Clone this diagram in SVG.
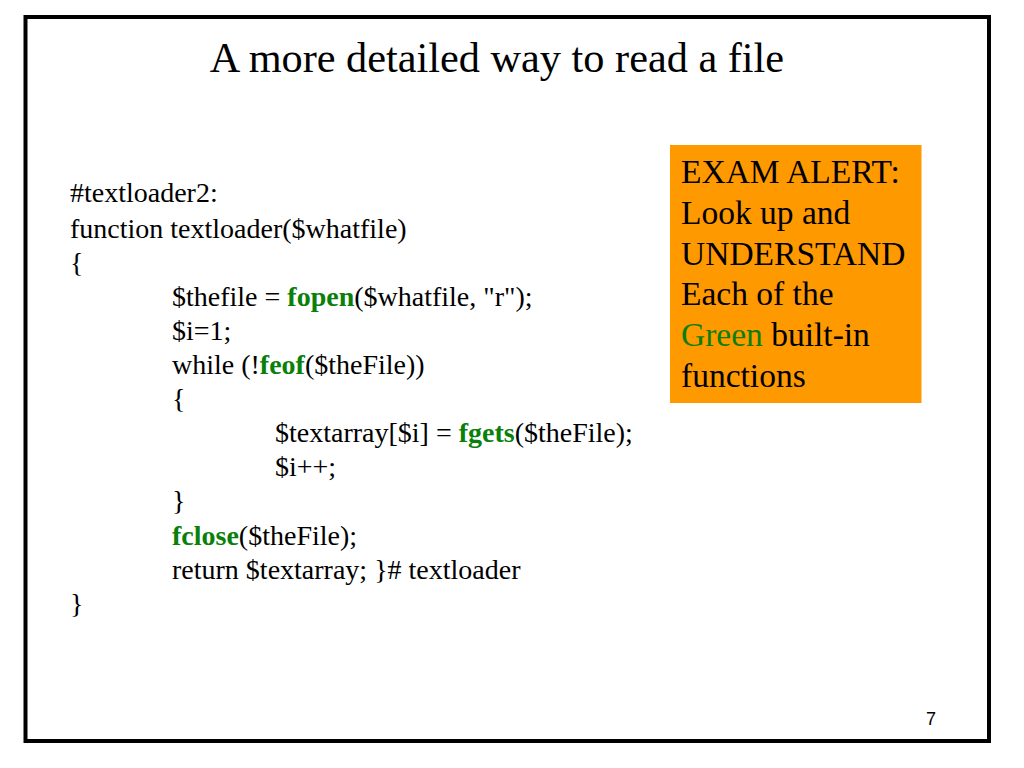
<svg xmlns="http://www.w3.org/2000/svg" width="1024" height="768" viewBox="0 0 1024 768">
<style>
.t{font-family:"Liberation Serif","Times New Roman",serif;fill:#000}
.code{font-size:28px}
.g{fill:#0a800a;font-weight:bold}
.box{font-size:33.5px}
.gr{fill:#0a800a}
</style>
<rect x="0" y="0" width="1024" height="768" fill="#fff"/>
<rect id="frame" x="25.5" y="17" width="963.5" height="724" fill="none" stroke="#000" stroke-width="4"/>
<text id="title" class="t" x="497" y="72" font-size="42.3" text-anchor="middle">A more detailed way to read a file</text>
<g id="code" class="t code" xml:space="preserve">
<text x="70" y="202">#textloader2:</text>
<text x="70" y="238">function textloader($whatfile)</text>
<text x="70" y="272">{</text>
<text x="172" y="306">$thefile = <tspan class="g">fopen</tspan>($whatfile, "r");</text>
<text x="172" y="340">$i=1;</text>
<text x="172" y="374">while (!<tspan class="g">feof</tspan>($theFile))</text>
<text x="172" y="408">{</text>
<text x="275" y="442">$textarray[$i] = <tspan class="g">fgets</tspan>($theFile);</text>
<text x="275" y="476">$i++;</text>
<text x="172" y="510">}</text>
<text x="172" y="545"><tspan class="g">fclose</tspan>($theFile);</text>
<text x="172" y="579">return $textarray; }# textloader</text>
<text x="70" y="613">}</text>
</g>
<g id="alert">
<rect x="670" y="145" width="251.5" height="258" fill="#ff9900"/>
<g class="t box">
<text x="681" y="183">EXAM ALERT:</text>
<text x="681" y="224">Look up and</text>
<text x="681" y="264.5">UNDERSTAND</text>
<text x="681" y="305">Each of the</text>
<text x="681" y="346"><tspan class="gr">Green</tspan> built-in</text>
<text x="681" y="386.5">functions</text>
</g>
</g>
<text id="pagenum" x="931" y="725" font-family="'Liberation Sans',Arial,sans-serif" font-size="18" text-anchor="middle" fill="#000">7</text>
</svg>
